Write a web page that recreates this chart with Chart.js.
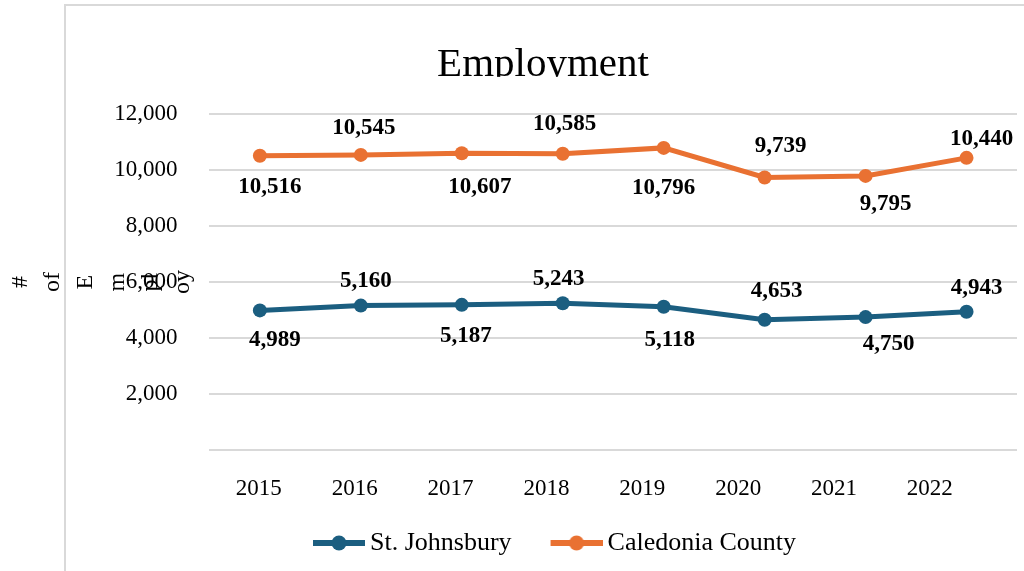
<!DOCTYPE html>
<html>
<head>
<meta charset="utf-8">
<script src="https://cdn.jsdelivr.net/npm/chart.js@4"></script>
<style>
html,body{margin:0;padding:0;background:#fff;overflow:hidden;width:1024px;height:571px}
#frame{position:absolute;left:64px;top:4px;width:1200px;height:800px;border:2px solid #d9d9d9;box-sizing:border-box}
#c{position:absolute;left:0;top:0}
</style>
</head>
<body>
<div id="frame"></div>
<canvas id="c" width="1024" height="571"></canvas>
<script>
// ---- data ----
const categories = ['2015', '2016', '2017', '2018', '2019', '2020', '2021', '2022'];
const tickYears = [2015, 2016, 2017, 2018, 2019, 2020, 2021, 2022];
const stJohnsbury = [4989, 5160, 5187, 5243, 5118, 4653, 4750, 4943];
const caledonia = [10516, 10545, 10607, 10585, 10796, 9739, 9795, 10440];
const seriesNames = ['St. Johnsbury', 'Caledonia County'];
const yTicks = [0, 2000, 4000, 6000, 8000, 10000, 12000];
const titleText = 'Employment';
const yTitleLines = ['#', 'of', 'E', 'm', 'pl', 'oy'];

// ---- label placement (pixel offsets from each point) ----
const offsetsStJ = [[15,30],[5,-25],[4,31],[-4,-24],[6,33],[12,-29],[23,27],[10,-24]];
const offsetsCal = [[10,31],[3,-27],[18,34],[2,-30],[0,40],[16,-31],[20,28],[15,-19]];

const FAMILY = '"Liberation Serif", "Times New Roman", serif';
const BLUE = '#1b5e80';
const ORANGE = '#e97132';

// legend swatch: line with a dot; transparent left margin so the swatch sits just before the text
function swatch(color) {
  const M = 37;
  const c = document.createElement('canvas');
  c.width = M + 52; c.height = 16;
  const g = c.getContext('2d');
  g.strokeStyle = color; g.lineWidth = 6;
  g.beginPath(); g.moveTo(M, 8); g.lineTo(M + 52, 8); g.stroke();
  g.fillStyle = color;
  g.beginPath(); g.arc(M + 26, 8, 7.5, 0, Math.PI * 2); g.fill();
  return c;
}

const valueLabels = {
  id: 'valueLabels',
  afterDatasetsDraw(chart) {
    const ctx = chart.ctx;
    ctx.save();
    ctx.font = 'bold 23px ' + FAMILY;
    ctx.fillStyle = '#000';
    ctx.textAlign = 'center';
    ctx.textBaseline = 'middle';
    const offs = [offsetsStJ, offsetsCal];
    chart.data.datasets.forEach((ds, di) => {
      const meta = chart.getDatasetMeta(di);
      meta.data.forEach((pt, i) => {
        ctx.fillText(ds.data[i].toLocaleString('en-US'), pt.x + offs[di][i][0], pt.y + offs[di][i][1]);
      });
    });
    ctx.restore();
  }
};

const TITLE_PAD_TOP = 41;
const titleClip = {
  id: 'titleClip',
  afterDraw(chart) {
    const tb = chart.titleBlock;
    if (!tb) return;
    const ctx = chart.ctx;
    ctx.save();
    ctx.font = '41px ' + FAMILY;
    ctx.textBaseline = 'middle';
    const m = ctx.measureText('E');
    const midY = tb.top + TITLE_PAD_TOP + 41 * 1.2 / 2;
    const clipY = midY + m.actualBoundingBoxDescent + 0.5;
    ctx.fillStyle = '#fff';
    ctx.fillRect(400, clipY, 300, 16);
    ctx.restore();
  }
};

const boxShift = {
  id: 'boxShift',
  afterLayout(chart) {
    if (chart.legend) { chart.legend.left += 30; chart.legend.right += 30; }
    if (chart.titleBlock) { chart.titleBlock.left += 66; }
  }
};

new Chart(document.getElementById('c'), {
  type: 'line',
  data: {
    labels: categories,
    datasets: [
      { label: seriesNames[0], data: stJohnsbury, borderColor: BLUE, backgroundColor: BLUE,
        borderWidth: 5, pointRadius: 7, pointBorderWidth: 0, pointBackgroundColor: BLUE, tension: 0, xAxisID: 'x' },
      { label: seriesNames[1], data: caledonia, borderColor: ORANGE, backgroundColor: ORANGE,
        borderWidth: 5, pointRadius: 7, pointBorderWidth: 0, pointBackgroundColor: ORANGE, tension: 0, xAxisID: 'x' }
    ]
  },
  options: {
    responsive: false,
    animation: false,
    layout: { padding: { left: 0, right: 4, top: 0, bottom: 5 } },
    plugins: {
      title: { display: true, text: titleText, color: '#000',
        font: { family: FAMILY, size: 41, weight: 'normal', lineHeight: 1.2 },
        padding: { top: TITLE_PAD_TOP, bottom: 24 } },
      legend: {
        position: 'bottom',
        labels: {
          usePointStyle: true, pointStyleWidth: 73, padding: 10, color: '#000',
          font: { family: FAMILY, size: 26 },
          generateLabels(chart) {
            const items = Chart.defaults.plugins.legend.labels.generateLabels(chart);
            const cols = [BLUE, ORANGE];
            items.forEach((it, i) => { it.pointStyle = swatch(cols[i]); });
            return items;
          }
        }
      },
      tooltip: { enabled: false }
    },
    scales: {
      x: { type: 'category', display: false, offset: true },
      x2: {
        type: 'linear', position: 'bottom', min: 2014.484, max: 2022.909,
        afterBuildTicks: s => { s.ticks = tickYears.map(v => ({ value: v })); },
        ticks: { callback: v => String(v), color: '#000', font: { family: FAMILY, size: 23 },
          padding: 25, autoSkip: false, maxRotation: 0 },
        grid: { display: false, drawTicks: false },
        border: { display: false },
        afterFit: s => { s.height = 70; }
      },
      y: {
        min: 0, max: 12000,
        afterBuildTicks: s => { s.ticks = yTicks.map(v => ({ value: v })); },
        ticks: { callback: v => (v === 0 ? '' : v.toLocaleString('en-US')), color: '#000',
          font: { family: FAMILY, size: 23 }, padding: 32 },
        grid: { color: '#d9d9d9', lineWidth: 2, drawTicks: false },
        border: { display: false },
        title: { display: true, text: yTitleLines, color: '#000',
          font: { family: FAMILY, size: 24, lineHeight: 1.354 }, padding: { top: 4, bottom: 0 } },
        afterFit: s => { s.width = 209.4; }
      }
    }
  },
  plugins: [valueLabels, titleClip, boxShift]
});
</script>
</body>
</html>
